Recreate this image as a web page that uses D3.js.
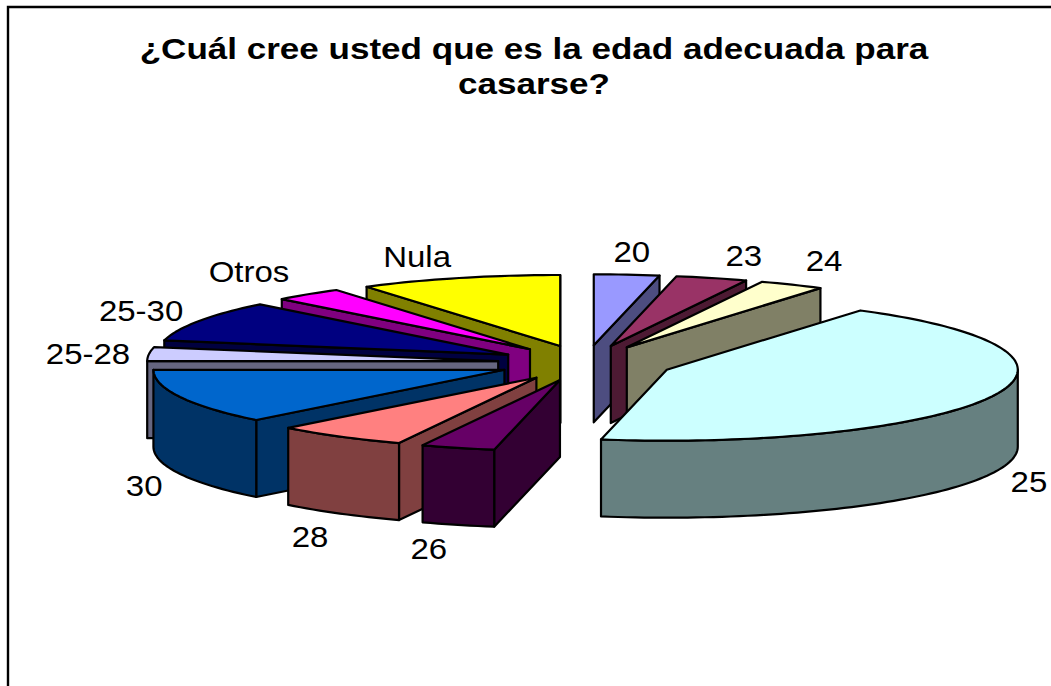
<!DOCTYPE html>
<html><head><meta charset="utf-8">
<script src="https://cdn.jsdelivr.net/npm/d3@7"></script>
<style>html,body{margin:0;padding:0;background:#fff;overflow:hidden}svg{display:block}
text{font-family:"Liberation Sans",Arial,sans-serif;fill:#000}</style></head>
<body><svg id="c" width="1051" height="686"></svg>
<script>
const categories = ["20","23","24","25","26","28","30","25-28","25-30","Otros","Nula"];
const values = [3.0,3.3,3.0,43.7,3.4,6.1,12.5,3.2,9.3,3.2,9.3];
const topColors = ["#9999FF","#993366","#FFFFCC","#CCFFFF","#660066","#FF8080","#0066CC","#CCCCFF","#000080","#FF00FF","#FFFF00"];
const wallColors = ["#4D4D80","#4D1A33","#808066","#668080","#330033","#804040","#003366","#666680","#000040","#800080","#808000"];
const titleLines = ["¿Cuál cree usted que es la edad adecuada para","casarse?"];
const labelOffsets = [[5,-23],[32,-23],[32,-24],[37,8],[-29,24],[-30,23],[-36,12],[-61,-1],[-58,-10],[-59,-23],[-42,-22]];

const cx=585.5, cy=363, rx=351, ry=71, depth=77, explode=0.25;
const svg=d3.select("#c");
svg.append("path").attr("d","M8,686V7H1051").attr("fill","none").attr("stroke","#000").attr("stroke-width",2.4);

const pie=d3.pie().sort(null).value(d=>d)(values);
const line=d3.line();
const proj=(a,o,r=1,z=0)=>[o[0]+rx*r*Math.sin(a),o[1]-ry*r*Math.cos(a)+z];
const arcPts=(a0,a1,o,z=0)=>{const n=Math.max(2,Math.ceil((a1-a0)*40));
  return d3.range(n+1).map(i=>proj(a0+(a1-a0)*i/n,o,1,z));};
const g=svg.append("g").attr("stroke","#000").attr("stroke-width",2.2).attr("stroke-linejoin","round");

const slices=pie.map((p,i)=>{const m=(p.startAngle+p.endAngle)/2;
  return {i,a0:p.startAngle,a1:p.endAngle,m,o:proj(m,[cx,cy],explode)};});
// painter's order: back-left clockwise-inward, then the right side
const order=[10,9,8,7,6,5,4,0,1,2,3];
const wall=(a,s)=>{const e=proj(a,s.o);
  g.append("path").attr("fill",wallColors[s.i]).attr("d",line([s.o,e,[e[0],e[1]+depth],[s.o[0],s.o[1]+depth]])+"Z");};
order.forEach(k=>{const s=slices[k];
  if(Math.sin(s.a0)<0) wall(s.a0,s);
  if(Math.sin(s.a1)>0) wall(s.a1,s);
  const f0=Math.max(s.a0,Math.PI/2), f1=Math.min(s.a1,Math.PI*1.5);
  if(f1>f0){const top=arcPts(f0,f1,s.o), bot=arcPts(f0,f1,s.o,depth).reverse();
    g.append("path").attr("fill",wallColors[s.i]).attr("d",line(top.concat(bot))+"Z");}
  g.append("path").attr("fill",topColors[s.i]).attr("d",line([s.o].concat(arcPts(s.a0,s.a1,s.o)))+"Z");
});

slices.forEach(s=>{const c=Math.cos(s.m)<0?depth:0,p=proj(s.m,s.o,1,c);
  const x=p[0]+labelOffsets[s.i][0], y=p[1]+labelOffsets[s.i][1];
  svg.append("text").attr("text-anchor","middle")
    .attr("transform",`translate(${x},${y}) scale(1.1,1)`).attr("font-size",30).attr("dy","0.35em").text(categories[s.i]);});

titleLines.forEach((t,i)=>svg.append("text").attr("text-anchor","middle")
  .attr("transform",`translate(534,${59+i*34.5}) scale(1.2,1)`).attr("font-size",29.2).attr("font-weight","bold").text(t));
</script></body></html>
